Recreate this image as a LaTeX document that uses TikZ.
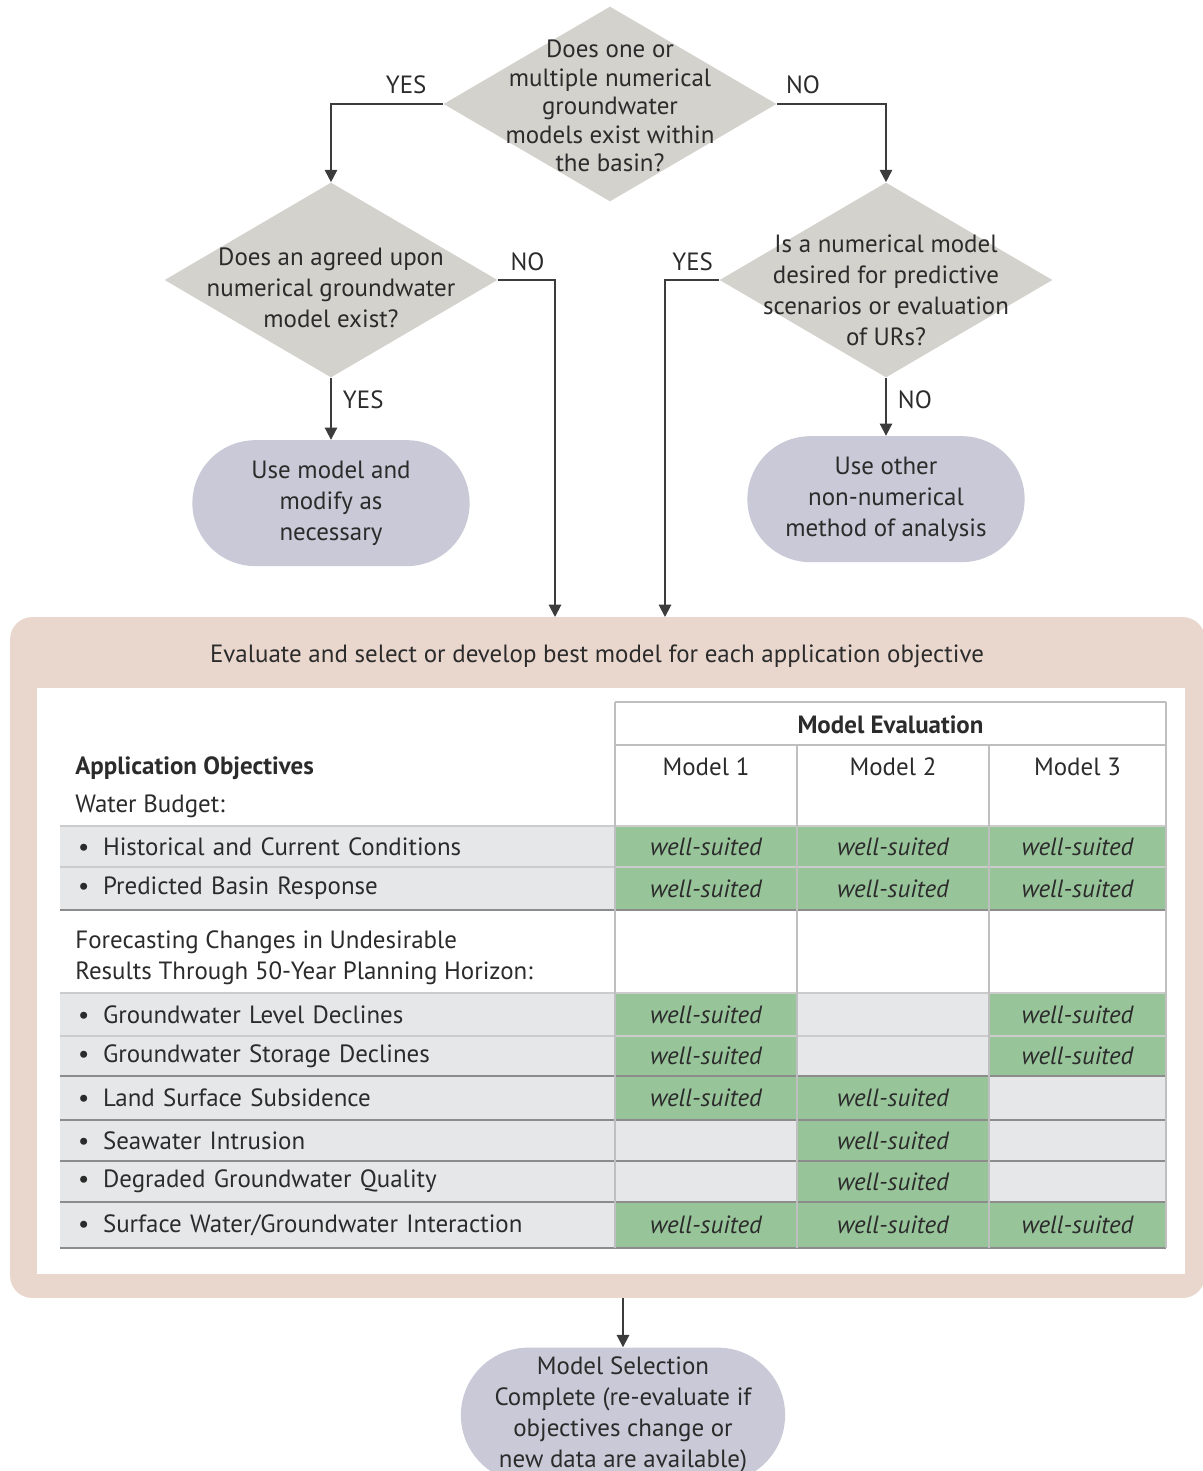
\documentclass[tikz,border=0pt]{standalone}
\usepackage{fontspec}
\setmainfont{PT Sans}
\usetikzlibrary{positioning,arrows.meta,shapes.geometric,shapes.misc}
\definecolor{diamondgray}{HTML}{D4D2CC}
\definecolor{termblue}{HTML}{C9C9D7}
\definecolor{panelbeige}{HTML}{E9D7CE}
\definecolor{cellgray}{HTML}{E6E7E8}
\definecolor{suitgreen}{HTML}{98C49A}
\definecolor{inkgray}{HTML}{2B2B2B}
\definecolor{arrowgray}{HTML}{3C3C3C}
\newcommand\flowfont{\fontsize{14.2}{17.6}\selectfont}
\tikzset{
  decision/.style={diamond, fill=diamondgray, minimum width=6.66cm, minimum height=3.9cm, inner sep=0pt},
  qtext/.style={align=center, font=\flowfont, text=inkgray},
  terminal/.style={rounded rectangle, fill=termblue, minimum width=5.78cm, minimum height=2.52cm, align=center, font=\flowfont, text=inkgray},
  connect/.style={-{Triangle[length=7pt,width=7pt]}, line width=1.1pt, draw=arrowgray},
  answer/.style={font=\flowfont, text=inkgray, inner sep=2pt},
  panel/.style={rectangle, rounded corners=0.44cm, fill=panelbeige, minimum width=23.9cm, minimum height=13.62cm},
  sheet/.style={rectangle, fill=white, minimum width=22.96cm, minimum height=11.72cm},
  plain/.style={font=\flowfont, text=inkgray, inner sep=0pt},
  objcell/.style={rectangle, fill=cellgray, minimum width=11.1cm, text width=10.38cm, align=left, inner xsep=0.36cm, inner ysep=0pt, font=\flowfont, text=inkgray},
  cell/.style={rectangle, inner sep=0pt, font=\flowfont\itshape, text=inkgray},
  suited/.style={cell, fill=suitgreen, node contents={well-suited}},
  unsuited/.style={cell, fill=cellgray, node contents={}}
}

\begin{document}
\begin{tikzpicture}[x=0.02cm, y=-0.02cm]
  \useasboundingbox (0,0) rectangle (1203,1471);

  % Questions
  \node[decision, label={[qtext, yshift=-0.04cm, font=\fontsize{14.2}{16.2}\selectfont]center:Does one or\\multiple numerical\\groundwater\\models exist within\\the basin?}] (q1) at (610,104) {};
  \node[decision, label={[qtext, yshift=-0.16cm]center:Does an agreed upon\\numerical groundwater\\model exist?}] (q2) at (331,280) {};
  \node[decision, label={[qtext, yshift=-0.2cm]center:Is a numerical model\\desired for predictive\\scenarios or evaluation\\of URs?}] (q3) at (886,280) {};

  % End points
  \node[terminal] (usemodel) [below=1.24cm of q2] {Use model and\\modify as\\necessary};
  \node[terminal] (useother) [below=1.16cm of q3] {Use other\\non-numerical\\method of analysis};

  % Evaluation panel
  \node[panel] (panel) at (607.5,957.5) {};
  \node[plain] (paneltitle) at (597,656) {Evaluate and select or develop best model for each application objective};
  \node[sheet] (sheet) at (611,981) {};

  \coordinate (inA) at (555,617);
  \coordinate (inB) at (665,617);

  \draw[connect] (q1.west) -| node[answer, pos=0.165, above=0.12cm] {YES} (q2.north);
  \draw[connect] (q1.east) -| node[answer, pos=0.12, above=0.12cm] {NO} (q3.north);
  \draw[connect] (q2.east) -| node[answer, pos=0.26, above=0.1cm] {NO} (inA);
  \draw[connect] (q3.west) -| node[answer, pos=0.245, above=0.1cm] {YES} (inB);
  \draw[connect] (q2.south) -- node[answer, right=0.15cm, pos=0.35] {YES} (usemodel.north);
  \draw[connect] (q3.south) -- node[answer, right=0.15cm, pos=0.38] {NO} (useother.north);

  % Table header
  \node[plain, font=\flowfont\bfseries] (evalhead) at (890.5,725) {Model Evaluation};
  \foreach \k/\x in {1/706,2/893,3/1077.5}
    \node[plain] (model\k) at (\x,767) {Model \k};
  \node[plain, font=\flowfont\bfseries, anchor=west] (objhead) at (75,768) {Application Objectives};
  \node[plain, anchor=west] (budget) at (75,806) {Water Budget:};
  \node[plain, anchor=west, align=left] (forecast) at (75,958) {Forecasting Changes in Undesirable\\Results Through 50-Year Planning Horizon:};

  % Table rows
  \foreach \n/\top/\bot/\txt/\sa/\sb/\sc in {
      1/826/867/{Historical and Current Conditions}/suited/suited/suited,
      2/867/910/{Predicted Basin Response}/suited/suited/suited,
      3/993/1036/{Groundwater Level Declines}/suited/unsuited/suited,
      4/1036/1076/{Groundwater Storage Declines}/suited/unsuited/suited,
      5/1076/1120/{Land Surface Subsidence}/suited/suited/unsuited,
      6/1120/1161/{Seawater Intrusion}/unsuited/suited/unsuited,
      7/1161/1202/{Degraded Groundwater Quality}/unsuited/suited/unsuited,
      8/1202/1248/{Surface Water/Groundwater Interaction}/suited/suited/suited} {
    \pgfmathsetmacro\ymid{(\top+\bot)/2}
    \pgfmathsetmacro\hh{(\bot-\top)*0.02}
    \node[objcell, minimum height=\hh cm] (obj\n) at (337.5,\ymid) {\makebox[0.5cm][l]{\textbullet}\txt};
    \node (m\n-1) at (706,\ymid) [minimum height=\hh cm, minimum width=3.64cm, \sa];
    \node (m\n-2) at (893,\ymid) [minimum height=\hh cm, minimum width=3.84cm, \sb];
    \node (m\n-3) at (1077.5,\ymid) [minimum height=\hh cm, minimum width=3.54cm, \sc];
  }

  % Grid lines
  \foreach \y/\c in {826/black!20, 867/black!20, 910/black!45, 993/black!20, 1036/black!20,
      1076/black!45, 1120/black!45, 1161/black!45, 1202/black!45, 1248/black!45}
    \draw[\c, line width=0.8pt] (60,\y) -- (1166,\y);
  \foreach \y in {702,745}
    \draw[black!25, line width=0.8pt] (615,\y) -- (1166,\y);
  \foreach \x in {615,1166}
    \draw[black!25, line width=0.8pt] (\x,702) -- (\x,1248);
  \foreach \x in {797,989}
    \draw[black!25, line width=0.8pt] (\x,745) -- (\x,1248);

  % Final step
  \node[terminal, minimum width=6.72cm, minimum height=2.7cm] (done) [below=0.98cm of panel, xshift=0.31cm] {Model Selection\\Complete (re-evaluate if\\objectives change or\\new data are available)};
  \draw[connect] (done.north |- panel.south) -- (done.north);
\end{tikzpicture}
\end{document}
